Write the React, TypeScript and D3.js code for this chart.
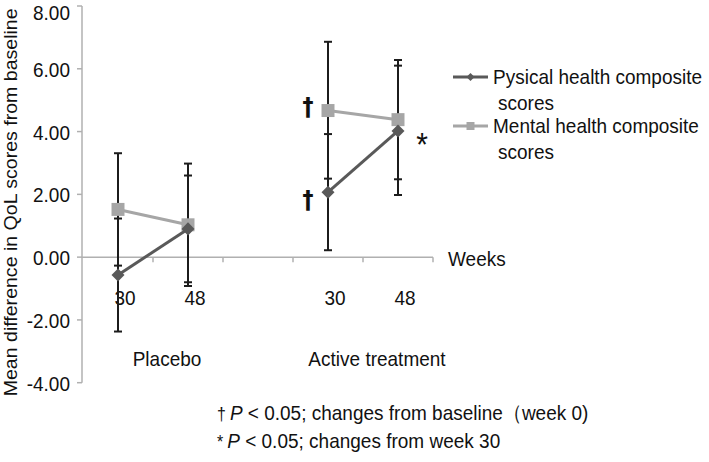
import React from "react";
import * as d3 from "d3";

const categories = ["Placebo-30", "Placebo-48", "gap", "Active-30", "Active-48"];
const weekLabels = ["30", "48", "", "30", "48"];
const groups = ["Placebo", "Active treatment"];
const groupMembers = [["Placebo-30", "Placebo-48"], ["Active-30", "Active-48"]];
const yTicks = [-4, -2, 0, 2, 4, 6, 8];

const physical = [-0.57, 0.9, null, 2.07, 4.02];
const physicalLow = [-2.37, -0.8, null, 0.22, 1.98];
const physicalHigh = [1.23, 2.6, null, 3.92, 6.1];

const mental = [1.52, 1.03, null, 4.67, 4.38];
const mentalLow = [-0.27, -0.92, null, 2.5, 2.48];
const mentalHigh = [3.31, 2.98, null, 6.86, 6.28];

const legendLabels = [
  ["Pysical health composite", "scores"],
  ["Mental health composite", "scores"],
];
const footnotes = [
  { sym: "†", rest: " < 0.05; changes from baseline（week 0)" },
  { sym: "*", rest: " < 0.05; changes from week 30" },
];

const W = 709;
const H = 462;
const FONT = "'Liberation Sans', Arial, Helvetica, sans-serif";
const SY = 1.1;
const PHYS = "#595959";
const MENT = "#a6a6a6";
const AXIS = "#b0b0b0";
const INK = "#111";

const x = d3.scaleBand<string>().domain(categories).range([83, 433]).padding(0);
const y = d3.scaleLinear().domain([-4, 8]).range([382.7, 6]);
const cx = (i: number) => (x(categories[i]) as number) + x.bandwidth() / 2;

function T(props: {
  x: number;
  y: number;
  size?: number;
  anchor?: string;
  children: React.ReactNode;
  weight?: string | number;
  family?: string;
}) {
  const { size = 19, anchor = "start", weight = "normal", family = FONT } = props;
  return (
    <text
      transform={`translate(${props.x},${props.y}) scale(1,${SY})`}
      fontSize={size}
      fontFamily={family}
      textAnchor={anchor}
      fontWeight={weight}
      fill={INK}
    >
      {props.children}
    </text>
  );
}

type Seg = { i: number; v: number }[];
function segmentsOf(vals: (number | null)[]): Seg[] {
  const segs: Seg[] = [];
  groupMembers.forEach((g) => {
    const seg = g
      .map((c) => categories.indexOf(c))
      .filter((i) => vals[i] != null)
      .map((i) => ({ i, v: vals[i] as number }));
    segs.push(seg);
  });
  return segs;
}

const line = d3
  .line<{ i: number; v: number }>()
  .x((d) => cx(d.i))
  .y((d) => y(d.v));

const diamond = d3.symbol(d3.symbolDiamond2, 108)() as string;
const square = d3.symbol(d3.symbolSquare, 169)() as string;
const legendDiamond = d3.symbol(d3.symbolDiamond2, 40)() as string;
const legendSquare = d3.symbol(d3.symbolSquare, 64)() as string;

export default function App() {
  const errorBars: React.ReactNode[] = [];
  const addBars = (vals: (number | null)[], lo: (number | null)[], hi: (number | null)[], key: string) => {
    vals.forEach((v, i) => {
      if (v == null) return;
      const X = cx(i);
      const y1 = y(lo[i] as number);
      const y2 = y(hi[i] as number);
      errorBars.push(
        <g key={key + i} stroke="#1c1c1c" strokeWidth={2}>
          <line x1={X} x2={X} y1={y1} y2={y2} />
          <line x1={X - 4} x2={X + 4} y1={y1} y2={y1} />
          <line x1={X - 4} x2={X + 4} y1={y2} y2={y2} />
        </g>
      );
    });
  };
  addBars(mental, mentalLow, mentalHigh, "m");
  addBars(physical, physicalLow, physicalHigh, "p");

  const y0 = y(0);

  return (
    <svg
      width={W}
      height={H}
      style={{ position: "absolute", left: 0, top: 0, background: "#fff" }}
    >
      <rect width={W} height={H} fill="#fff" />
      {/* y axis */}
      <line x1={82} x2={82} y1={y(8)} y2={y(-4)} stroke={AXIS} strokeWidth={1.5} />
      {yTicks.map((t) => (
        <g key={t}>
          <line x1={77} x2={82} y1={y(t)} y2={y(t)} stroke={AXIS} strokeWidth={1.5} />
          <T x={70} y={Math.max(y(t) + 8, 20)} anchor="end">
            {t.toFixed(2)}
          </T>
        </g>
      ))}
      {/* y title */}
      <text
        transform={`translate(16.5,${(y(8) + y(-4)) / 2 + 8}) rotate(-90) scale(1.03,1)`}
        fontSize={19}
        fontFamily={FONT}
        textAnchor="middle"
        fill={INK}
      >
        Mean difference in QoL scores from baseline
      </text>
      {/* x axis */}
      <line x1={82} x2={433} y1={y0} y2={y0} stroke={AXIS} strokeWidth={1.5} />
      {categories.map((c) => {
        const xe = (x(c) as number) + x.step();
        return <line key={c} x1={xe} x2={xe} y1={y0} y2={y0 + 5} stroke={AXIS} strokeWidth={1.5} />;
      })}
      <T x={448} y={266}>Weeks</T>
      {weekLabels.map((l, i) =>
        l ? (
          <T key={i} x={cx(i) + 7} y={305} anchor="middle">
            {l}
          </T>
        ) : null
      )}
      {groups.map((g, gi) => {
        const idx = groupMembers[gi].map((c) => categories.indexOf(c));
        const mid = (cx(idx[0]) + cx(idx[1])) / 2;
        return (
          <T key={g} x={mid + 14} y={366} anchor="middle">
            {g}
          </T>
        );
      })}

      {errorBars}

      {/* mental series */}
      {segmentsOf(mental).map((s, k) => (
        <path key={"ml" + k} d={line(s) as string} fill="none" stroke={MENT} strokeWidth={3} />
      ))}
      {mental.map((v, i) =>
        v == null ? null : (
          <path key={"ms" + i} d={square} transform={`translate(${cx(i)},${y(v)})`} fill={MENT} />
        )
      )}
      {/* physical series */}
      {segmentsOf(physical).map((s, k) => (
        <path key={"pl" + k} d={line(s) as string} fill="none" stroke={PHYS} strokeWidth={3} />
      ))}
      {physical.map((v, i) =>
        v == null ? null : (
          <path key={"ps" + i} d={diamond} transform={`translate(${cx(i)},${y(v)})`} fill={PHYS} />
        )
      )}

      {/* significance marks */}
      <T
        x={cx(3) - 20}
        y={y(mental[3] as number) + 4}
        anchor="middle"
        size={22}
        weight="bold"
        family="'DejaVu Sans', sans-serif"
      >
        †
      </T>
      <T
        x={cx(3) - 20}
        y={y(physical[3] as number) + 16}
        anchor="middle"
        size={22}
        weight="bold"
        family="'DejaVu Sans', sans-serif"
      >
        †
      </T>
      <T x={cx(4) + 24} y={y(physical[4] as number) + 25} anchor="middle" size={30}>
        *
      </T>

      {/* legend */}
      {legendLabels.map((lab, k) => {
        const ly = 77 + k * 49;
        return (
          <g key={k}>
            <line x1={453} x2={488} y1={ly} y2={ly} stroke={k === 0 ? PHYS : MENT} strokeWidth={3} />
            <path
              d={k === 0 ? legendDiamond : legendSquare}
              transform={`translate(470.5,${ly})`}
              fill={k === 0 ? PHYS : MENT}
            />
            <T x={493} y={ly + 7}>{lab[0]}</T>
            <T x={498} y={ly + 33}>{lab[1]}</T>
          </g>
        );
      })}

      {/* footnotes */}
      {footnotes.map((f, k) => (
        <T key={k} x={217} y={420 + k * 28}>
          <tspan fontSize={16}>{f.sym}</tspan>
          <tspan dx={4} fontStyle="italic">P</tspan>
          <tspan>{f.rest}</tspan>
        </T>
      ))}
    </svg>
  );
}
